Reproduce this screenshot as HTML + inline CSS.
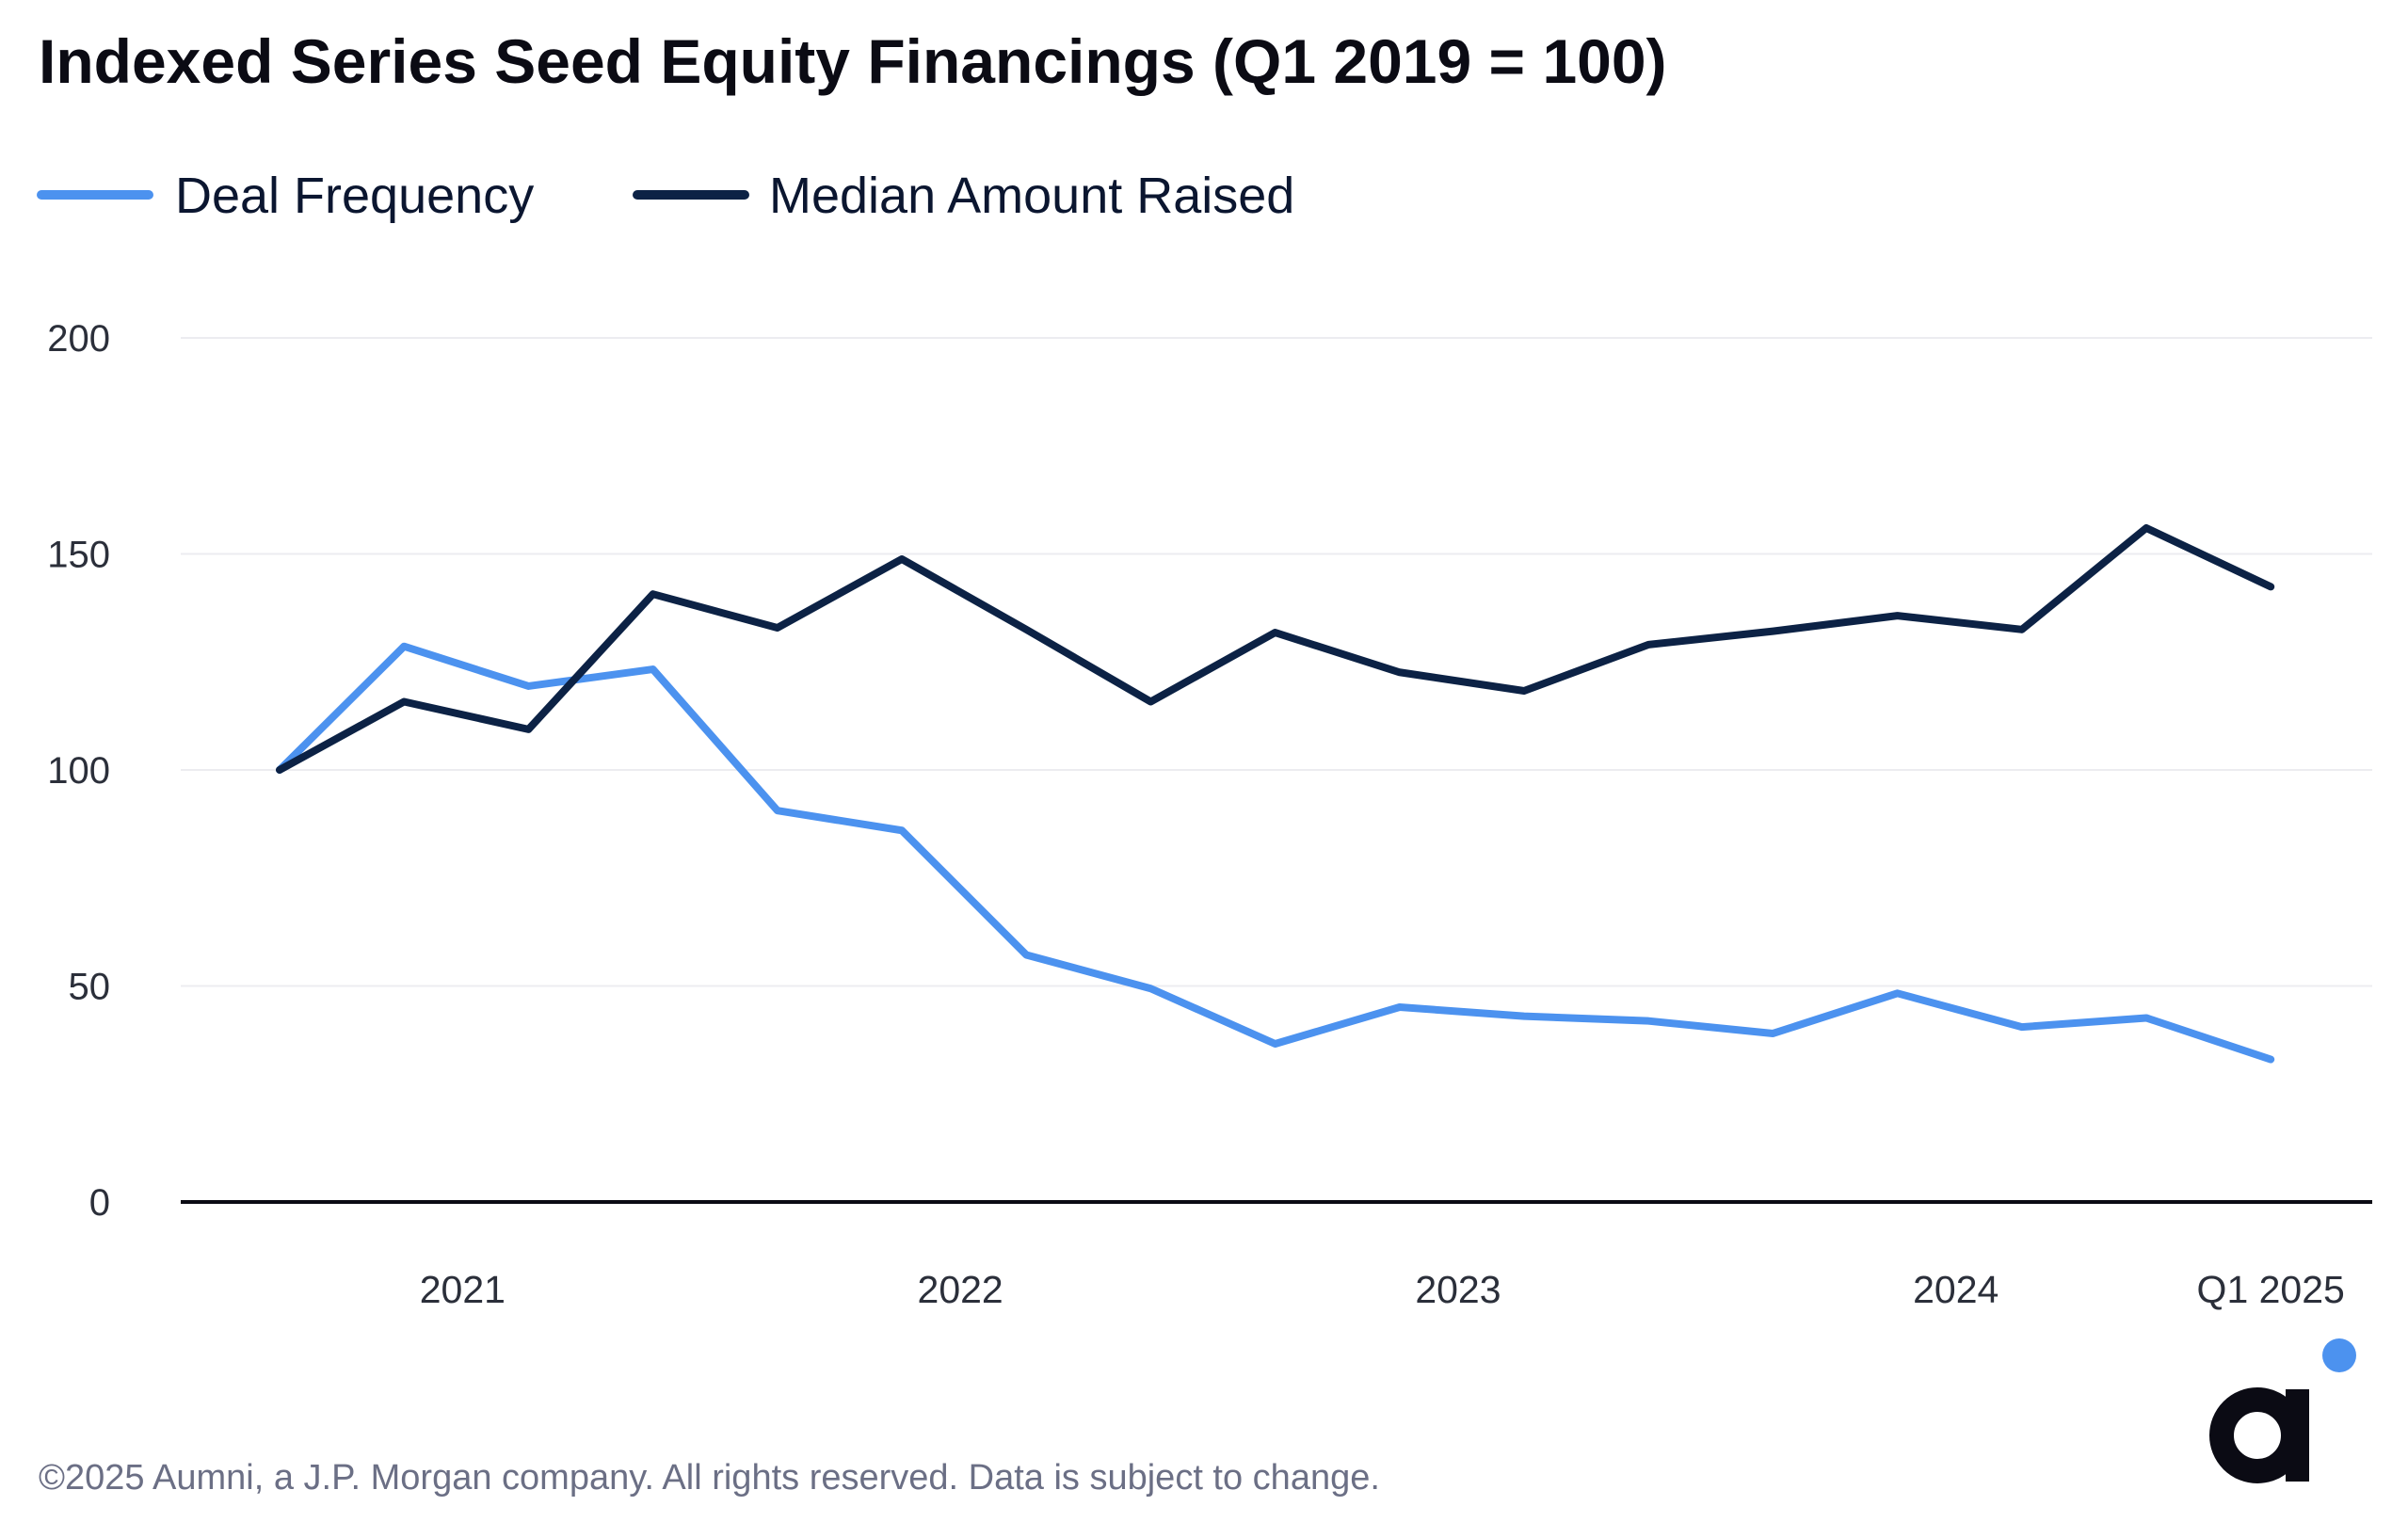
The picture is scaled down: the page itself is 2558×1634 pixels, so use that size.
<!DOCTYPE html>
<html><head><meta charset="utf-8"><style>
html,body{margin:0;padding:0;background:#fff;}
body{width:2558px;height:1629px;overflow:hidden;font-family:"Liberation Sans",sans-serif;}
</style></head><body>
<svg width="2558" height="1629" viewBox="0 0 2558 1629" xmlns="http://www.w3.org/2000/svg">
<text x="41" y="88" font-size="66" font-weight="bold" fill="#0b0b14">Indexed Series Seed Equity Financings (Q1 2019 = 100)</text>
<g>
<line x1="44" y1="207" x2="158" y2="207" stroke="#4c92ef" stroke-width="10" stroke-linecap="round"/>
<text x="186" y="226" font-size="54" fill="#0b1630">Deal Frequency</text>
<line x1="677" y1="207" x2="791" y2="207" stroke="#0c2245" stroke-width="10" stroke-linecap="round"/>
<text x="817" y="226" font-size="54" fill="#0b1630">Median Amount Raised</text>
</g>
<g id="grid"></g><g id="series"></g><g id="xlabels"></g>
<text x="41" y="1582" font-size="38" fill="#6b6f85">©2025 Aumni, a J.P. Morgan company. All rights reserved. Data is subject to change.</text>
<g>
<circle cx="2485" cy="1440" r="18" fill="#4c92ef"/>
<circle cx="2398" cy="1525" r="38" fill="none" stroke="#0b0b14" stroke-width="26"/>
<rect x="2428" y="1476" width="25" height="98" fill="#0b0b14"/>
</g>
</svg>
<script>
const categories=["Q1 2021","Q2 2021","Q3 2021","Q4 2021","Q1 2022","Q2 2022","Q3 2022","Q4 2022","Q1 2023","Q2 2023","Q3 2023","Q4 2023","Q1 2024","Q2 2024","Q3 2024","Q4 2024","Q1 2025"];
const dealFrequency=[100,128.6,119.4,123.3,90.6,86,57.2,49.4,36.6,45.1,43,41.9,39,48.3,40.5,42.6,33];
const medianAmount=[100,115.8,109.4,140.7,132.9,148.8,132.5,115.8,131.8,122.6,118.3,129,132.1,135.7,132.5,156,142.4];
const yTicks=[0,50,100,150,200];
const xLabels=["2021","2022","2023","2024","Q1 2025"];
const xLabelIdx=[1.47,5.47,9.47,13.47,16];
const NS="http://www.w3.org/2000/svg";
const xs=i=>297+i*132.2;
const ys=v=>1277-v*(918/200);
function mk(t,a,p){const e=document.createElementNS(NS,t);for(const k in a)e.setAttribute(k,a[k]);p.appendChild(e);return e;}
const grid=document.getElementById('grid');
yTicks.forEach(v=>{
 const l=mk('line',{x1:192,x2:2520,y1:ys(v),y2:ys(v),stroke:v===0?'#0b0b14':'#ececf0','stroke-width':v===0?4:2},grid);
 
 
 const t=mk('text',{x:117,y:ys(v)+14,'text-anchor':'end','font-size':40,fill:'#2b2f3a'},grid);
 t.textContent=v;
 
 
});
const ser=document.getElementById('series');
[[dealFrequency,'#4c92ef','deal-frequency-line'],[medianAmount,'#0c2245','median-amount-line']].forEach(([d,c,n])=>{
 const p=mk('polyline',{points:d.map((v,i)=>xs(i)+','+ys(v)).join(' '),fill:'none',stroke:c,'stroke-width':8,'stroke-linejoin':'round','stroke-linecap':'round'},ser);
 
 
});
const xl=document.getElementById('xlabels');
xLabels.forEach((s,i)=>{
 const t=mk('text',{x:xs(xLabelIdx[i]),y:1384,'text-anchor':'middle','font-size':41,fill:'#2b2f3a'},xl);
 t.textContent=s;
 
 
});
</script>
</body></html>
